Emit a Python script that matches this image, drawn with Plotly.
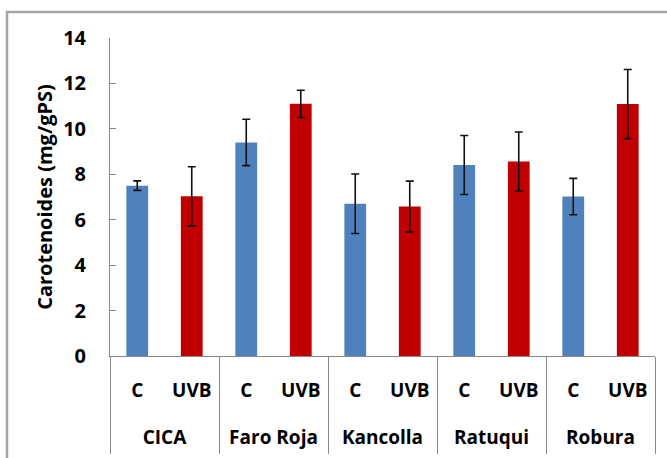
import plotly.graph_objects as go

varieties = ["CICA", "Faro Roja", "Kancolla", "Ratuqui", "Robura"]
treatments = ["C", "UVB"]
control_vals = [7.50, 9.40, 6.70, 8.41, 7.02]
control_err = [0.21, 1.02, 1.31, 1.30, 0.80]
uvb_vals = [7.03, 11.10, 6.58, 8.56, 11.09]
uvb_err = [1.30, 0.60, 1.12, 1.30, 1.52]
y_ticks = [0, 2, 4, 6, 8, 10, 12, 14]

FONT = "Open Sans"
axis_gray = "#868686"

cat_keys = [f"{v}|{t}" for v in varieties for t in treatments]
cat_text = [t for v in varieties for t in treatments]
n = len(cat_keys)
group_centers = [i * len(treatments) + (len(treatments) - 1) / 2 for i in range(len(varieties))]
group_bounds = [i * len(treatments) - 0.5 for i in range(len(varieties) + 1)]

fig = go.Figure()
fig.add_trace(go.Bar(
    x=[f"{v}|{treatments[0]}" for v in varieties],
    y=control_vals,
    marker=dict(color="#4f81bd", line=dict(width=0)),
    error_y=dict(type="data", array=control_err, visible=True,
                 color="#111111", thickness=1.6, width=4),
    name="C", hoverinfo="skip",
))
fig.add_trace(go.Bar(
    x=[f"{v}|{treatments[1]}" for v in varieties],
    y=uvb_vals,
    marker=dict(color="#c00000", line=dict(width=0)),
    error_y=dict(type="data", array=uvb_err, visible=True,
                 color="#111111", thickness=1.6, width=4),
    name="UVB", hoverinfo="skip",
))
# empty helper traces so the label / divider axes get drawn
for ax in ("x2", "x3"):
    fig.add_trace(go.Scatter(x=[None], y=[None], xaxis=ax, yaxis="y",
                             mode="markers", showlegend=False, hoverinfo="skip"))

fig.update_layout(
    width=667, height=458,
    margin=dict(l=110, r=12, t=38, b=102, autoexpand=False),
    paper_bgcolor="white", plot_bgcolor="white",
    barmode="overlay", bargap=0.6,
    showlegend=False,
    font=dict(family=FONT, size=18, color="black", weight="bold"),
    shapes=[dict(type="rect", xref="paper", yref="paper",
                 x0=(7 - 110) / 545, x1=1.2, y0=-0.6, y1=(356 - 12) / 318,
                 line=dict(color="#a6a6a6", width=2.5), fillcolor="rgba(0,0,0,0)",
                 layer="below")],
    xaxis=dict(
        type="category", categoryorder="array", categoryarray=cat_keys,
        range=[-0.5, n - 0.5], showgrid=False,
        showline=True, linecolor=axis_gray, linewidth=1,
        tickvals=cat_keys, ticktext=cat_text, ticks="",
        ticklabelstandoff=17,
        tickfont=dict(family=FONT, size=19, weight="bold"),
    ),
    xaxis2=dict(
        overlaying="x", anchor="y", side="bottom", type="linear",
        range=[-0.5, n - 0.5], showgrid=False, zeroline=False, showline=False,
        tickvals=group_centers, ticktext=varieties, ticks="",
        ticklabelstandoff=68,
        tickfont=dict(family=FONT, size=19, weight="bold"),
    ),
    xaxis3=dict(
        overlaying="x", anchor="y", side="bottom", type="linear",
        range=[-0.5, n - 0.5], showgrid=False, zeroline=False, showline=False,
        tickvals=group_bounds, ticks="outside", ticklen=97,
        tickcolor=axis_gray, tickwidth=1, showticklabels=False,
    ),
    yaxis=dict(
        range=[0, 14], tickvals=y_ticks, showgrid=False, zeroline=False,
        showline=True, linecolor=axis_gray, linewidth=1,
        ticks="inside", ticklen=6, tickcolor=axis_gray,
        ticklabelstandoff=19,
        tickfont=dict(family=FONT, size=20, weight="bold"),
        title=dict(text="Carotenoides (mg/gPS)", standoff=5,
                   font=dict(family=FONT, size=20, weight="bold")),
    ),
)

fig.write_html("out.html", config={"displayModeBar": False},
               post_script="document.body.style.margin='0px';")
